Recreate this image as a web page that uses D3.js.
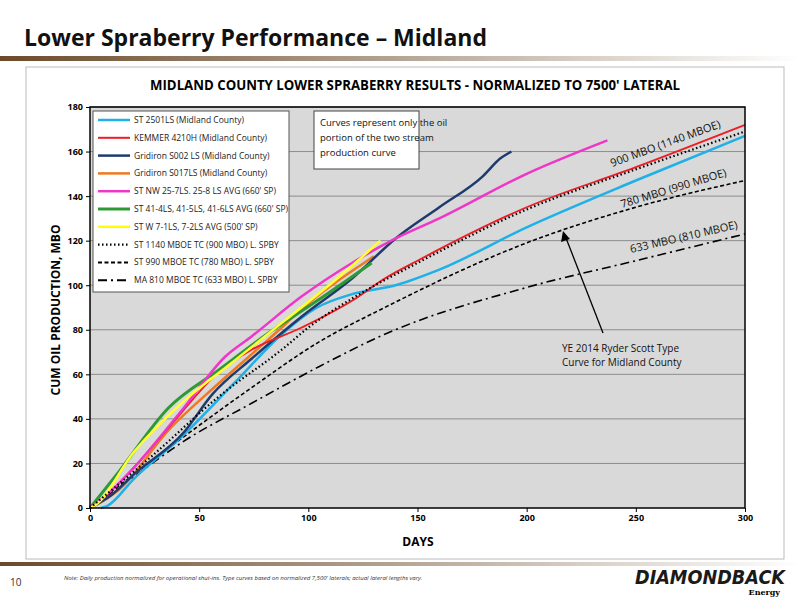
<!DOCTYPE html>
<html><head><meta charset="utf-8">
<script src="https://cdn.jsdelivr.net/npm/d3@7"></script>
<style>body{margin:0;background:#fff;font-family:"Open Sans",sans-serif}</style>
</head><body><div id="chart"></div>
<script>
// series: [day, cum oil MBO]
var st2501 = [[5,0],[8,1],[20,13],[43,33],[66,56],[89,79],[104,90],[120,96],[140,100],[160,107],[200,126],[250,147],[300,167]];
var kemmer = [[0,0],[10,8],[20,18],[36,36],[59,61],[74,71],[97,81],[120,93],[135,103],[150,111],[200,135],[250,153],[300,172]];
var s002 = [[0,0],[10,6],[20,15],[43,34],[56,51],[74,67],[97,86],[120,103],[140,121],[160,135],[180,149],[188,157],[193,160]];
var s017 = [[0,0],[13,8],[36,35],[59,56],[81,75],[104,95],[127,111],[130,113]];
var stnw = [[0,0],[10,8],[20,18],[43,45],[62,68],[74,77],[97,95],[120,110],[140,121],[160,130],[200,150],[237,165]];
var st41 = [[0,0],[13,16],[36,45],[59,62],[81,78],[104,93],[129,110]];
var stw7 = [[0,0],[2,1],[20,25],[43,48],[66,66],[89,84],[112,102],[133,120]];
var tc900 = [[0,0],[28,23],[59,50],[89,72],[100,81],[120,94],[150,110],[200,134],[250,152],[300,169]];
var tc780 = [[0,0],[20,15],[43,32],[74,54],[104,74],[135,90],[200,119],[250,135],[300,147]];
var tc633 = [[0,0],[20,14],[43,30],[74,47],[104,63],[135,78],[200,99],[250,111],[300,123]];

var seriesNames = ["ST 2501LS (Midland County)","KEMMER 4210H (Midland County)","Gridiron S002 LS (Midland County)","Gridiron S017LS (Midland County)","ST NW 25-7LS. 25-8 LS AVG (660' SP)","ST 41-4LS, 41-5LS, 41-6LS  AVG (660' SP)","ST W 7-1LS, 7-2LS AVG (500' SP)","ST 1140 MBOE TC (900 MBO) L. SPBY","ST 990 MBOE TC (780 MBO) L. SPBY","MA 810 MBOE TC (633 MBO) L. SPBY"];
var seriesData = [st2501,kemmer,s002,s017,stnw,st41,stw7,tc900,tc780,tc633];
var colors = ["#1fb0e8","#ee1c24","#1f3b6e","#f07820","#f036c8","#2e9a36","#ffff33","#000","#000","#000"];
var widths = [2.5,1.8,2.5,2.5,2.5,3,2.5,2.2,1.6,1.6];
var dashes = [null,null,null,null,null,null,null,"1.5,2.5","4,2.5","9,4,2,4"];
var xTicks = [0,50,100,150,200,250,300];
var yTicks = [0,20,40,60,80,100,120,140,160,180];

var svg = d3.select("#chart").append("svg").attr("width",800).attr("height",600);
var defs = svg.append("defs");
var g1 = defs.append("linearGradient").attr("id","bar");
g1.append("stop").attr("offset","0%").attr("stop-color","#6b4a2a");
g1.append("stop").attr("offset","100%").attr("stop-color","#fff");

svg.append("text").attr("x",24).attr("y",46).attr("font-size",23).attr("font-weight","bold")
  .attr("fill","#111").text("Lower Spraberry Performance \u2013 Midland");
svg.append("rect").attr("x",0).attr("y",56).attr("width",800).attr("height",5).attr("fill","url(#bar)");
svg.append("rect").attr("x",0).attr("y",562).attr("width",800).attr("height",4).attr("fill","url(#bar)");

svg.append("rect").attr("x",26).attr("y",67).attr("width",758).attr("height",492)
  .attr("fill","#fff").attr("stroke","#bbb");
svg.append("text").attr("x",415).attr("y",90).attr("text-anchor","middle").attr("font-size",13.5)
  .attr("font-weight","bold").attr("font-family","'Liberation Sans Narrow','Open Sans',sans-serif")
  .attr("textLength",530).attr("lengthAdjust","spacingAndGlyphs")
  .text("MIDLAND COUNTY LOWER SPRABERRY RESULTS - NORMALIZED TO 7500' LATERAL");

var margin = {left:90, top:107};
var width = 655, height = 401;
var x = d3.scaleLinear().domain([0,300]).range([0,width]);
var y = d3.scaleLinear().domain([0,180]).range([height,0]);
var chartGroup = svg.append("g").attr("transform",`translate(${margin.left},${margin.top})`);

chartGroup.append("rect").attr("width",width).attr("height",height).attr("fill","#d9d9d9");
chartGroup.selectAll("line.grid").data(yTicks.slice(1)).enter().append("line")
  .attr("x1",0).attr("x2",width).attr("y1",d=>y(d)).attr("y2",d=>y(d)).attr("stroke","#8c8c8c").attr("stroke-width",1);

var line = d3.line().x(d=>x(d[0])).y(d=>y(d[1])).curve(d3.curveMonotoneX);
var order = [9,8,0,3,2,1,5,4,6,7];
order.forEach(function(i){
  chartGroup.append("path").datum(seriesData[i]).attr("d",line).attr("fill","none")
    .attr("stroke",colors[i]).attr("stroke-width",widths[i]).attr("stroke-dasharray",dashes[i]);
});

chartGroup.append("rect").attr("width",width).attr("height",height).attr("fill","none").attr("stroke","#000").attr("stroke-width",1.5);

var xa = chartGroup.append("g").attr("transform",`translate(0,${height})`)
  .call(d3.axisBottom(x).tickValues(xTicks).tickSize(4));
var ya = chartGroup.append("g").call(d3.axisLeft(y).tickValues(yTicks).tickSize(4));
[xa,ya].forEach(a=>{a.selectAll("text").attr("font-size",9).attr("font-weight","bold").attr("font-family","'Open Sans',sans-serif");a.select(".domain").remove();});

svg.append("text").attr("x",418).attr("y",546).attr("text-anchor","middle").attr("font-size",12).attr("font-weight","bold").text("DAYS");
svg.append("text").attr("transform","translate(60,310) rotate(-90)").attr("text-anchor","middle")
  .attr("font-size",12).attr("font-weight","bold").text("CUM OIL PRODUCTION, MBO");

// legend
var leg = svg.append("g").attr("transform","translate(93,111)");
leg.append("rect").attr("width",196).attr("height",181).attr("fill","#fff").attr("stroke","#555");
seriesNames.forEach(function(n,i){
  var yy = 9 + i*17.8;
  leg.append("line").attr("x1",5).attr("x2",37).attr("y1",yy).attr("y2",yy)
    .attr("stroke",colors[i]==="#ffff33"?"#ffff00":colors[i]).attr("stroke-width",Math.max(widths[i],2)).attr("stroke-dasharray",dashes[i]);
  leg.append("text").attr("x",41).attr("y",yy+3).attr("font-size",8.5).attr("fill","#222").text(n);
});

// annotation box
var ann = svg.append("g").attr("transform","translate(314,111)");
ann.append("rect").attr("width",105).attr("height",58).attr("fill","#fff").attr("stroke","#444");
["Curves represent only the oil","portion of the two stream","production curve"].forEach(function(t,i){
  ann.append("text").attr("x",6).attr("y",15+i*15).attr("font-size",9.5).attr("fill","#111").text(t);
});

// type curve labels
[["900 MBO (1140 MBOE)",612,167,-20],["780 MBO (990 MBOE)",622,208,-17],["633 MBO (810 MBOE)",631,253,-13]].forEach(function(d){
  svg.append("text").attr("transform",`translate(${d[1]},${d[2]}) rotate(${d[3]})`).attr("font-size",11).attr("fill","#111").text(d[0]);
});
svg.append("line").attr("x1",603).attr("y1",333).attr("x2",566).attr("y2",238).attr("stroke","#000").attr("stroke-width",1.3);
svg.append("path").attr("d","M563,231 L561,242 L570,239 Z").attr("fill","#000");
["YE 2014  Ryder Scott Type","Curve for Midland County"].forEach(function(t,i){
  svg.append("text").attr("x",562).attr("y",352+i*14).attr("font-size",10).attr("fill","#111").text(t);
});

svg.append("text").attr("x",10).attr("y",586).attr("font-size",10).attr("fill","#333").text("10");
svg.append("text").attr("x",64).attr("y",580).attr("font-size",6).attr("font-style","italic").attr("fill","#333")
  .text("Note: Daily production normalized for operational shut-ins. Type curves based on normalized 7,500' laterals; actual lateral lengths vary.");
svg.append("text").attr("x",785).attr("y",584).attr("text-anchor","end").attr("font-size",19).attr("font-weight","900")
  .attr("font-style","italic").attr("fill","#1a1a1a").attr("font-family","'DejaVu Sans',sans-serif").attr("textLength",150).attr("lengthAdjust","spacingAndGlyphs").text("DIAMONDBACK");
svg.append("text").attr("x",780).attr("y",595).attr("text-anchor","end").attr("font-size",8).attr("font-weight","bold")
  .attr("font-family","'DejaVu Serif',serif").text("Energy");
</script></body></html>
